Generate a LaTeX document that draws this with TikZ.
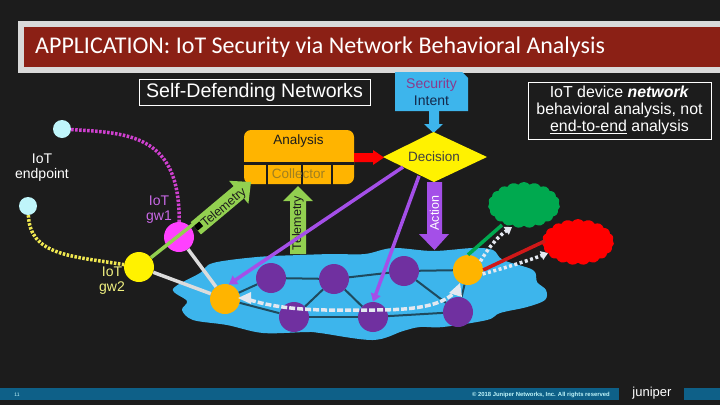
\documentclass[tikz,border=0pt]{standalone}
\usepackage{fontspec}
\setmainfont{Liberation Sans}
\newfontfamily\titlefont{Carlito}
\usetikzlibrary{arrows.meta,shapes.symbols,shapes.geometric}
\definecolor{bgdark}{HTML}{1C1C1C}
\definecolor{bandgray}{HTML}{D9D9D9}
\definecolor{bandred}{HTML}{8B2015}
\definecolor{skyb}{HTML}{3DB5EC}
\definecolor{netpurple}{HTML}{7030A0}
\definecolor{orangeb}{HTML}{FFB400}
\definecolor{linkdark}{HTML}{1F4A5E}
\definecolor{arrowpurple}{HTML}{A44FE8}
\definecolor{telegreen}{HTML}{92D050}
\definecolor{barblue}{HTML}{0E6088}
\definecolor{lightgray}{HTML}{DCDCDC}
\definecolor{whitedash}{HTML}{E4E8F0}
\definecolor{cloudgreen}{HTML}{00A94F}
\definecolor{linkred}{HTML}{D01818}
\definecolor{gwmagenta}{HTML}{FF40FF}
\definecolor{dotmagenta}{HTML}{D040D0}
\definecolor{dotyellow}{HTML}{F0E850}
\definecolor{txtmagenta}{HTML}{C868E6}
\definecolor{txtyellow}{HTML}{F0F080}
\definecolor{endcyan}{HTML}{BFF5FA}
\definecolor{secpurple}{HTML}{8A3A8C}
\definecolor{intnavy}{HTML}{14284A}
\definecolor{collcol}{HTML}{A08020}
\tikzset{
 x=1pt,y=-1pt,
 netnode/.style={circle,fill=netpurple,minimum size=30pt,inner sep=0pt},
 orangenode/.style={circle,fill=orangeb,minimum size=30pt,inner sep=0pt},
 endpointnode/.style={circle,fill=endcyan,minimum size=18pt,inner sep=0pt},
 netlink/.style={draw=linkdark,line width=2pt},
 graylink/.style={draw=lightgray,line width=3.5pt},
 purplelink/.style={draw=arrowpurple,line width=3.5pt,-{Triangle[width=10pt,length=8pt]}},
 dotlink/.style={line width=3.5pt,dash pattern=on 2.5pt off 1.5pt},
 whitedashed/.style={draw=whitedash,line width=3.5pt,dash pattern=on 6pt off 2pt},
 whitedotted/.style={draw=whitedash,line width=3.5pt,dash pattern=on 3pt off 2.5pt},
 labeltext/.style={align=center,font=\fontsize{14}{15}\selectfont,inner sep=0pt},
 framebox/.style={draw=white,line width=1pt,text=white,inner sep=0pt,align=center},
 blobcloud/.style={cloud,cloud puffs=19,cloud puff arc=100,aspect=1.6,inner sep=0pt}
}
\begin{document}
\begin{tikzpicture}
\useasboundingbox (0,0) rectangle (720,405);
\fill[bgdark] (0,0) rectangle (720,405);
% title
\fill[bandgray] (18,21) rectangle (720,73);
\fill[bandred] (24,27) rectangle (720,67);
\node[anchor=west,inner sep=0pt,text=white,font=\titlefont\fontsize{24}{26}\selectfont] (title) at (35,47) {APPLICATION: IoT Security via Network Behavioral Analysis};
% headings
\node[framebox,minimum width=231pt,minimum height=26pt,font=\fontsize{19.6}{22}\selectfont] (sdn) at (254.5,92) {Self-Defending Networks};
\fill[skyb] (395,72) -- (462,72) -- (468,78) -- (468,111) -- (395,111) -- cycle;
\node[align=center,inner sep=0pt,font=\fontsize{14}{17}\selectfont] (intent) at (431.5,92) {\textcolor{secpurple}{Security}\\\textcolor{intnavy}{Intent}};
\fill[skyb] (429,111) -- (439,111) -- (439,124) -- (443,124) -- (433.5,133) -- (424,124) -- (429,124) -- cycle;
\node[framebox,minimum width=183pt,minimum height=57pt,font=\fontsize{15.9}{16.8}\selectfont] (note) at (619.5,110.5) {IoT device \textbf{\textit{network}}\\behavioral analysis, not\\\underline{end-to-end} analysis};
% cloud
\fill[skyb] plot[smooth cycle,tension=0.55] coordinates {(173,289) (200,273) (213,263) (257,257) (300,255) (333,254) (365,254) (393,248) (433,251) (473,248) (493,250) (503,260) (533,270) (537,282) (546,290) (545,300) (527,307) (500,313) (487,320) (443,327) (420,327) (403,331) (373,340) (320,333) (307,332) (263,333) (227,325) (193,320) (182,310) (187,301)};
% analysis
\fill[orangeb,rounded corners=7pt] (244,130) rectangle (354,184);
\draw[bgdark,line width=3pt] (244,163) -- (354,163);
\draw[bgdark,line width=1.5pt] (267,163) -- (267,186) (302,163) -- (302,186) (332,163) -- (332,186);
\node[inner sep=0pt,font=\fontsize{13.5}{15}\selectfont,text=bgdark] (analysis) at (298.5,141) {Analysis};
\node[inner sep=0pt,font=\fontsize{13.5}{15}\selectfont,text=collcol] (collector) at (298.5,174) {Collector};
% red arrow
\fill[red] (354,153) -- (373,153) -- (373,150) -- (384,157.5) -- (373,165) -- (373,162) -- (354,162) -- cycle;
% decision
\fill[yellow] (383,157) -- (433.5,132) -- (487,157) -- (434,182) -- cycle;
\node[inner sep=0pt,font=\fontsize{13.5}{15}\selectfont,text=black!75] (decision) at (434,157) {Decision};
% action arrow
\fill[arrowpurple] (427,182) -- (442,182) -- (442,234) -- (449,234) -- (434.5,250) -- (419,234) -- (427,234) -- cycle;
\node[rotate=90,inner sep=0pt,text=white,font=\fontsize{12.5}{14}\selectfont] (action) at (434.5,213) {Action};
% vertical telemetry arrow
\fill[telegreen] (290,254) -- (290,201) -- (283,201) -- (298,186) -- (313,201) -- (306,201) -- (306,254) -- cycle;
\node[rotate=90,inner sep=0pt,text=bgdark,font=\fontsize{12.5}{14}\selectfont] (tele2) at (298,223) {Telemetry};
% network nodes
\node[orangenode] (oL) at (225,299) {};
\node[orangenode] (oR) at (468,270) {};
\node[netnode] (p1) at (271,278) {};
\node[netnode] (p2) at (334,279) {};
\node[netnode] (p3) at (404,271) {};
\node[netnode] (p4) at (294,317) {};
\node[netnode] (p5) at (373,317) {};
\node[netnode] (p6) at (458,312) {};
\draw[netlink] (oL) -- (p1); \draw[netlink] (p1) -- (p2); \draw[netlink] (p2) -- (p3);
\draw[netlink] (p3) -- (oR); \draw[netlink] (p2) -- (p4); \draw[netlink] (p2) -- (p5);
\draw[netlink] (p4) -- (p5); \draw[netlink] (p5) -- (p6); \draw[netlink] (p6) -- (oR);
\draw[netlink] (oL) -- (p4); \draw[netlink] (p3) -- (p6);
% clouds
\node[blobcloud,fill=cloudgreen,minimum width=72pt,minimum height=46pt] (gcloud) at (524,205) {};
\node[blobcloud,fill=red,minimum width=72pt,minimum height=46pt] (rcloud) at (578,242) {};
% gateways and endpoints
\node[circle,fill=gwmagenta,minimum size=30pt,inner sep=0pt] (gw1) at (179,237) {};
\node[circle,fill=yellow,minimum size=30pt,inner sep=0pt] (gw2) at (139,267) {};
\node[endpointnode] (e1) at (62,129) {};
\node[endpointnode] (e2) at (28,206) {};
\draw[dotlink,draw=dotmagenta] (e1) .. controls (130,133) and (180,135) .. (gw1);
\draw[dotlink,draw=dotyellow] (e2) .. controls (30,255) and (70,256) .. (gw2);
\draw[graylink] (gw1) -- (oL);
\draw[graylink] (gw2) -- (oL);
% diagonal telemetry arrow
\coordinate (telstart) at (196,222);
\draw[telegreen,line width=3.5pt] (gw2) -- (telstart);
\begin{scope}[shift={(251,182)},rotate=40]
\fill[telegreen] (0,0) -- (-16,-15) -- (-16,-8) -- (-72,-8) -- (-72,8) -- (-16,8) -- (-16,15) -- cycle;
\fill[black] (-72,-3) rectangle (-65,3);
\end{scope}
\node[rotate=40,inner sep=0pt,text=bgdark,font=\fontsize{12.5}{14}\selectfont] (tele1b) at (224,208) {Telemetry};
% purple links
\coordinate (d1) at (403,167);
\coordinate (d2) at (419,176);
\draw[purplelink] (d1) -- (oL.75);
\draw[purplelink] (d2) -- (p5.north);
% green and red links
\coordinate (gc) at (502,225);
\coordinate (rc) at (545,241);
\draw[draw=cloudgreen,line width=3.5pt] (oR.north) -- (gc);
\draw[draw=linkred,line width=3.5pt] (oR.east) -- (rc);
\coordinate (gt) at (512,227);
\coordinate (rt) at (548,253);
\draw[whitedotted,-{Triangle[width=9pt,length=7pt]}] (oR.35) .. controls (490,245) and (500,235) .. (gt);
\draw[whitedotted,-{Triangle[width=9pt,length=7pt]}] (oR.-15) .. controls (505,268) and (530,260) .. (rt);
% white dashed path between orange nodes
\coordinate (dashA) at (250,300);
\coordinate (dashB) at (454,293);
\draw[whitedashed] (dashA) .. controls (290,312) and (330,310) .. (373,310) .. controls (415,310) and (440,306) .. (dashB);
\fill[whitedash] (238,298) -- (251,292) -- (251,304) -- cycle;
\fill[whitedash] (460,283) -- (462,297) -- (449,293) -- cycle;
% labels
\node[labeltext,text=white] (lend) at (42,168) {IoT\\endpoint};
\node[labeltext,text=txtmagenta] (lgw1) at (159,210) {IoT\\gw1};
\node[labeltext,text=txtyellow] (lgw2) at (112,281) {IoT\\gw2};
% footer
\fill[barblue] (0,388) rectangle (619,400);
\fill[barblue] (684,388) rectangle (720,400);
\node[inner sep=0pt,text=endcyan,font=\fontsize{5}{6}\selectfont] (pg) at (17,394.5) {11};
\node[anchor=east,inner sep=0pt,text=endcyan,font=\fontsize{5.9}{7}\selectfont\bfseries] (copy) at (610,394.5) {© 2018 Juniper Networks, Inc. All rights reserved};
\node[inner sep=0pt,text=white,font=\fontsize{13}{14}\selectfont] (logo) at (652,393) {juniper};
\end{tikzpicture}
\end{document}
